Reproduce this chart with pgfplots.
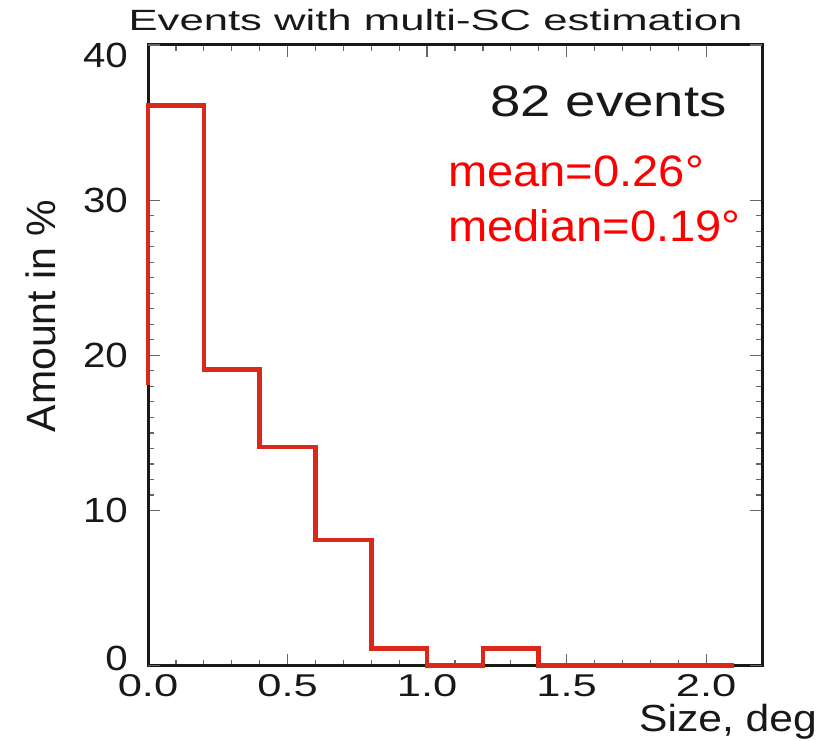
\documentclass[border=0pt]{standalone}
\usepackage{pgfplots}
\pgfplotsset{compat=1.18}
\usepackage{fontspec}
\usepackage{graphicx}
\setmainfont{Liberation Sans}
\definecolor{histred}{RGB}{218,40,25}
\definecolor{txtred}{RGB}{255,0,0}
\definecolor{txtblk}{RGB}{26,24,22}
\newcommand\xs[1]{\scalebox{1.38}[1]{#1}}
\newcommand\ys[1]{\scalebox{1.15}[1]{#1}}
\begin{document}
\begin{tikzpicture}[x=1pt,y=1pt]
\useasboundingbox (0,0) rectangle (833,741);
\begin{axis}[
  at={(148pt,75.3pt)}, anchor=south west,
  width=614pt, height=620.7pt, scale only axis,
  xmin=0, xmax=2.2, ymin=0, ymax=40,
  clip=false,
  axis line style={line width=3pt, color=txtblk},
  xtick={0,0.5,1,1.5,2},
  xticklabels={\xs{0.0},\xs{0.5},\xs{1.0},\xs{1.5},\xs{2.0}},
  ytick={10,20,30},
  yticklabels={\ys{10},\ys{20},\ys{30}},
  extra y ticks={0,40},
  extra y tick labels={\ys{\raisebox{7pt}[\height][\depth]{0}},\ys{\raisebox{-10pt}[\height][\depth]{40}}},
  minor x tick num=4,
  minor y tick num=9,
  tick align=inside,
  major tick length=12pt,
  minor tick length=6pt,
  tick style={line width=1.2pt, color=black!60},
  xticklabel style={font=\fontsize{31.5}{31.5}\selectfont, text=txtblk, anchor=north, inner sep=0pt, yshift=-9pt},
  yticklabel style={font=\fontsize{35}{35}\selectfont, text=txtblk, anchor=east, inner sep=0pt, xshift=-20pt},
]
\addplot[const plot, line width=4.5pt, color=histred, line join=miter] coordinates {
  (0,18.1) (0,36.1) (0.2,19.1) (0.4,14.1) (0.6,8.1) (0.8,1.1)
  (1.0,0) (1.2,1.1) (1.4,0) (2.1,0)
};
\end{axis}
\node[anchor=base, inner sep=0pt, text=txtblk, font=\fontsize{29.3}{29.3}\selectfont] at (435.5,710) {\scalebox{1.49}[1]{Events with multi-SC estimation}};
\node[anchor=base east, inner sep=0pt, text=txtblk, font=\fontsize{44}{44}\selectfont] at (727,624.3) {\scalebox{1.24}[1]{82 events}};
\node[anchor=base west, inner sep=0pt, text=txtred, font=\fontsize{44}{44}\selectfont] at (448,554.3) {\scalebox{1.07}[1]{mean=0.26°}};
\node[anchor=base west, inner sep=0pt, text=txtred, font=\fontsize{44}{44}\selectfont] at (448,499.3) {\scalebox{1.07}[1]{median=0.19°}};
\node[anchor=base east, inner sep=0pt, text=txtblk, font=\fontsize{37.7}{37.7}\selectfont] at (817,9) {\scalebox{1.13}[1]{Size, deg}};
\node[anchor=base, inner sep=0pt, rotate=90, text=txtblk, font=\fontsize{41}{41}\selectfont] at (55,425) {Amount in \%};
\end{tikzpicture}
\end{document}
